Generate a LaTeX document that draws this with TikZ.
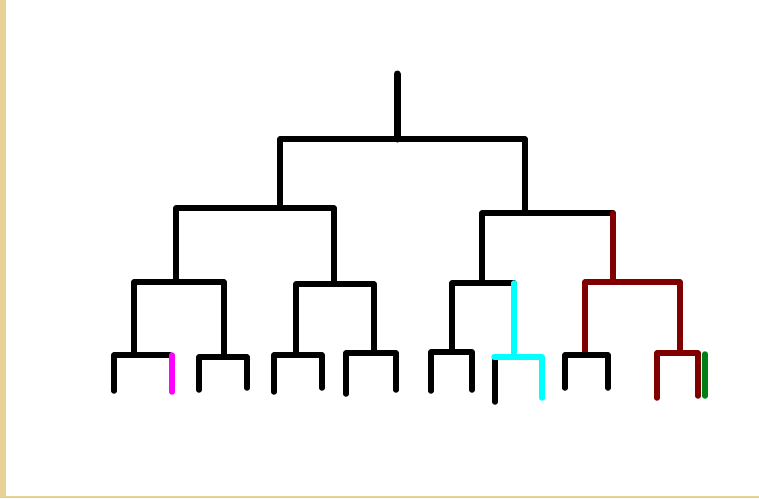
\documentclass[tikz,border=0pt]{standalone}
\usetikzlibrary{calc}
\definecolor{beige}{RGB}{232,208,150}
\definecolor{dred}{RGB}{128,0,0}
\definecolor{dgreen}{RGB}{0,128,20}
\definecolor{pcyan}{RGB}{0,255,255}
\definecolor{pmag}{RGB}{255,0,255}
\begin{document}
\begin{tikzpicture}[x=1pt,y=-1pt,
  br/.style={line width=5.5pt,line join=round,line cap=round,black},
  rootline/.style={line width=7pt,line cap=round,black}]
\useasboundingbox (0,0) rectangle (759,498);
\fill[white] (0,0) rectangle (759,498);
\fill[beige] (0,0) rectangle (6,498);
\fill[beige] (0,496) rectangle (759,498);
% root
\coordinate (r0) at (397,74);
\coordinate (r1) at (397,139);
\coordinate (aL) at (280,139);
\coordinate (aR) at (525,139);
% level 2
\coordinate (bLt) at (280,206);
\coordinate (bL1) at (176,208);
\coordinate (bL2) at (334,208);
\coordinate (bRt) at (525,212);
\coordinate (bR1) at (482,213);
\coordinate (bR2) at (613,213);
% level 3
\coordinate (c1t) at (176,280); \coordinate (c1a) at (134,282); \coordinate (c1b) at (224,282);
\coordinate (c2t) at (334,283); \coordinate (c2a) at (296,284); \coordinate (c2b) at (374,284);
\coordinate (c3t) at (482,282); \coordinate (c3a) at (452,283); \coordinate (c3b) at (514,283);
\coordinate (c4t) at (613,281); \coordinate (c4a) at (585,282); \coordinate (c4b) at (680,282);
% leaves
\coordinate (d1s) at (134,355); \coordinate (d1a) at (114,355); \coordinate (d1b) at (170,355);
\coordinate (d1ae) at (114,391); \coordinate (m1) at (172,355); \coordinate (m2) at (172,392);
\coordinate (d2s) at (224,357); \coordinate (d2a) at (199,357); \coordinate (d2b) at (247,357);
\coordinate (d2ae) at (199,390); \coordinate (d2be) at (247,388);
\coordinate (d3s) at (296,355); \coordinate (d3a) at (274,355); \coordinate (d3b) at (322,355);
\coordinate (d3ae) at (274,392); \coordinate (d3be) at (322,388);
\coordinate (d4s) at (374,353); \coordinate (d4a) at (346,353); \coordinate (d4b) at (396,353);
\coordinate (d4ae) at (346,394); \coordinate (d4be) at (396,390);
\coordinate (d5s) at (452,352); \coordinate (d5a) at (431,352); \coordinate (d5b) at (472,352);
\coordinate (d5ae) at (431,391); \coordinate (d5be) at (472,390);
\coordinate (d6s) at (514,357); \coordinate (d6a) at (494,357); \coordinate (d6b) at (542,357);
\coordinate (d6be) at (542,398); \coordinate (k1) at (495,360); \coordinate (k2) at (495,402);
\coordinate (d7s) at (585,355); \coordinate (d7a) at (565,355); \coordinate (d7b) at (608,355);
\coordinate (d7ae) at (565,388); \coordinate (d7be) at (608,388);
\coordinate (d8s) at (680,353); \coordinate (d8a) at (657,353); \coordinate (d8b) at (698,353);
\coordinate (d8ae) at (657,398); \coordinate (d8be) at (698,396);
\coordinate (g1) at (705,354); \coordinate (g2) at (705,396);
% drawing
\draw[rootline] (r0) -- (r1);
\draw[br] (bLt) -- (aL) -- (aR) -- (bRt);
\draw[br] (c1t) -- (bL1) -- (bL2) -- (c2t);
\draw[br] (c3t) -- (bR1) -- (bR2);
\draw[br,dred] (bR2) -- (c4t);
\draw[br] (d1s) -- (c1a) -- (c1b) -- (d2s);
\draw[br] (d3s) -- (c2a) -- (c2b) -- (d4s);
\draw[br] (d5s) -- (c3a) -- (c3b);
\draw[br,pcyan] (c3b) -- (d6s);
\draw[br,dred] (d7s) -- (c4a) -- (c4b) -- (d8s);
\draw[br] (d1ae) -- (d1a) -- (d1b);
\draw[br,pmag] (m1) -- (m2);
\draw[br] (d2ae) -- (d2a) -- (d2b) -- (d2be);
\draw[br] (d3ae) -- (d3a) -- (d3b) -- (d3be);
\draw[br] (d4ae) -- (d4a) -- (d4b) -- (d4be);
\draw[br] (d5ae) -- (d5a) -- (d5b) -- (d5be);
\draw[br] (k1) -- (k2);
\draw[br,pcyan] (d6a) -- (d6b) -- (d6be);
\draw[br] (d7ae) -- (d7a) -- (d7b) -- (d7be);
\draw[br,dred] (d8ae) -- (d8a) -- (d8b) -- (d8be);
\draw[br,dgreen] (g1) -- (g2);
\end{tikzpicture}
\end{document}
